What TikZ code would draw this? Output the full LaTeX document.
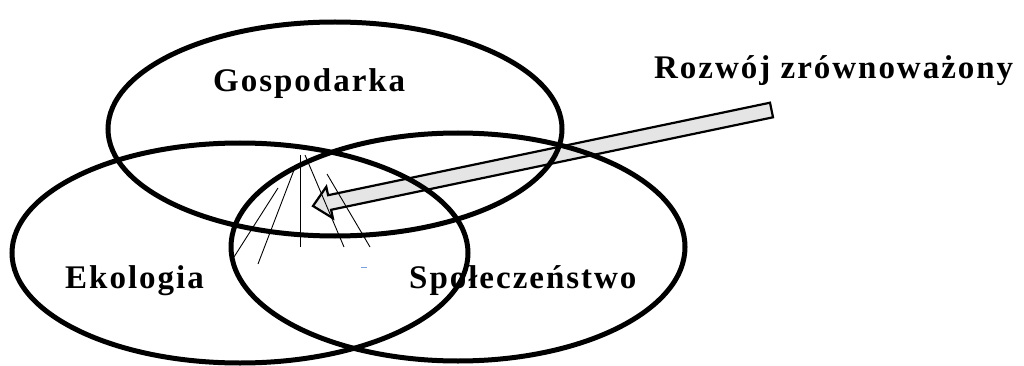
\documentclass[tikz,border=0pt]{standalone}
\usepackage{fontspec}
\setmainfont{Liberation Serif}
\newfontfamily\lblfont{Liberation Serif}[LetterSpace=6]
\begin{document}
\begin{tikzpicture}[x=1pt,y=-1pt,
  ring/.style={draw=black, line width=5pt},
  hatch/.style={draw=black, line width=0.9pt},
  lab/.style={font=\lblfont\bfseries\fontsize{33}{38}\selectfont, inner sep=0pt, anchor=base west},
  bigarrow/.style={draw=black, fill=black!10, line width=2.2pt, line join=miter}]
\useasboundingbox (0,0) rectangle (1024,366);
% arrow (drawn first, under the rings)
\coordinate (t1) at (773.0,117.3);
\coordinate (t2) at (770.0,102.7);
\coordinate (b1) at (331.1,209.8);
\coordinate (b2) at (328.1,195.2);
\coordinate (w1) at (332.9,218.2);
\coordinate (w2) at (326.3,186.8);
\coordinate (tip) at (313,206);
\draw[bigarrow] (t1) -- (b1) -- (w1) -- (tip) -- (w2) -- (b2) -- (t2) -- cycle;
% rings
\coordinate (cg) at (335,129);
\coordinate (ce) at (240,253);
\coordinate (cs) at (458,247);
\draw[ring] (cg) ellipse [x radius=227pt, y radius=107pt];
\draw[ring] (ce) ellipse [x radius=228pt, y radius=110pt];
\draw[ring] (cs) ellipse [x radius=227pt, y radius=114pt];
% hatching in the common part
\coordinate (h1a) at (278,188); \coordinate (h1b) at (234,257);
\coordinate (h2a) at (294,170); \coordinate (h2b) at (258,264);
\coordinate (h3a) at (300,155); \coordinate (h3b) at (300,247);
\coordinate (h4a) at (305,155); \coordinate (h4b) at (344,247);
\coordinate (h5a) at (327,174); \coordinate (h5b) at (370,247);
\draw[hatch] (h1a) -- (h1b);
\draw[hatch] (h2a) -- (h2b);
\draw[hatch] (h3a) -- (h3b);
\draw[hatch] (h4a) -- (h4b);
\draw[hatch] (h5a) -- (h5b);
\coordinate (d1) at (361,267); \coordinate (d2) at (367,267);
\draw[line width=1pt, color={rgb,255:red,120;green,160;blue,220}] (d1) -- (d2);
% labels
\node[lab] (gosp) at (213,92) {Gospodarka};
\node[lab] (ekol) at (65,288) {Ekologia};
\node[lab] (spol) at (409,288) {Społeczeństwo};
\node[lab] (rozw) at (654,79) {Rozwój zrównoważony};
\end{tikzpicture}
\end{document}
